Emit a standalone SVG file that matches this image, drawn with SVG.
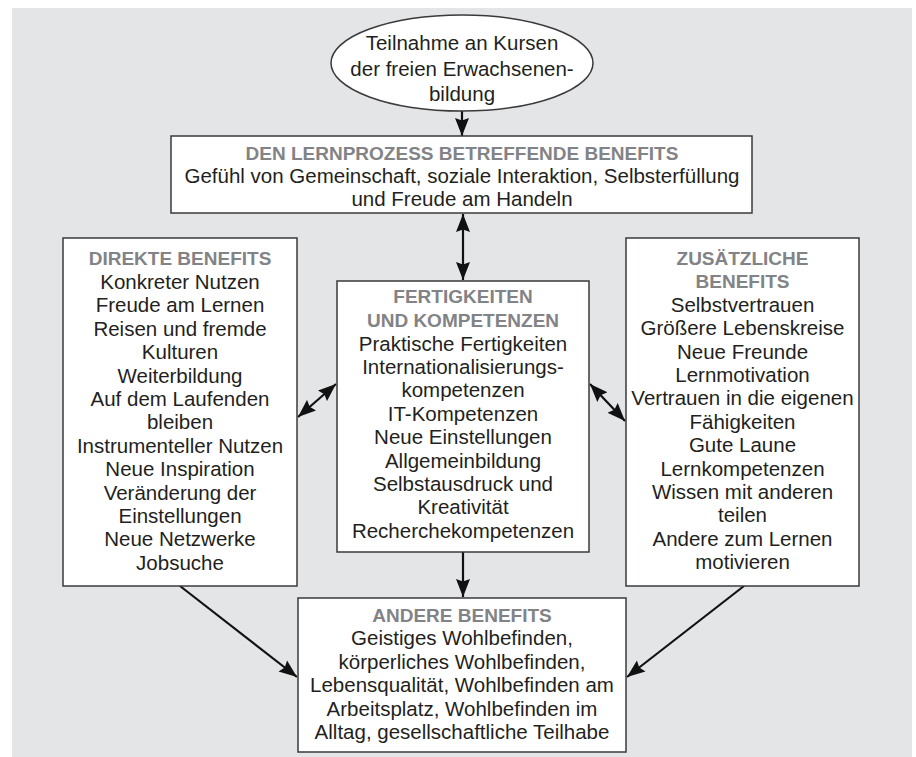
<svg xmlns="http://www.w3.org/2000/svg" width="916" height="757" viewBox="0 0 916 757">
<defs>
<style>
.bg{fill:#e4e5e7}
.box{fill:#ffffff;stroke:#3a3a3c;stroke-width:1.5}
.t{font-family:"Liberation Sans",Arial,sans-serif;font-size:20.5px;fill:#231f20;text-anchor:middle}
.h{font-family:"Liberation Sans",Arial,sans-serif;font-size:19px;font-weight:bold;fill:#828386;text-anchor:middle}
.c{stroke:#111;stroke-width:2.2;fill:none;marker-end:url(#ah)}
.d{stroke:#111;stroke-width:2.2;fill:none;marker-end:url(#ah);marker-start:url(#ah)}
</style>
<marker id="ah" markerUnits="userSpaceOnUse" markerWidth="19" markerHeight="15" refX="18" refY="7.5" orient="auto-start-reverse">
<path d="M0,0.5 L18,7.5 L0,14.5 L2.5,7.5 z" fill="#111"/>
</marker>
</defs>
<rect class="bg" x="12" y="8" width="900" height="749"/>

<g id="connectors">
<line class="c" x1="462" y1="111" x2="462" y2="136"/>
<line class="d" x1="463" y1="214" x2="463" y2="280"/>
<line class="d" x1="298" y1="417" x2="336" y2="384"/>
<line class="d" x1="590" y1="384" x2="625" y2="421"/>
<line class="c" x1="463" y1="552" x2="463" y2="597"/>
<line class="c" x1="180" y1="586" x2="297" y2="677"/>
<line class="c" x1="744" y1="586" x2="627" y2="677"/>
</g>

<g id="start">
<ellipse cx="462" cy="63" rx="131" ry="48" fill="#ffffff" stroke="#3a3a3c" stroke-width="1.5"/>
<text class="t" x="462" y="50">Teilnahme an Kursen</text>
<text class="t" x="462" y="75.5">der freien Erwachsenen-</text>
<text class="t" x="462" y="101">bildung</text>
</g>

<g id="lernprozess">
<rect class="box" x="171" y="136" width="581" height="77"/>
<text class="h" x="462" y="160">DEN LERNPROZESS BETREFFENDE BENEFITS</text>
<text class="t" x="462" y="183">Gefühl von Gemeinschaft, soziale Interaktion, Selbsterfüllung</text>
<text class="t" x="462" y="206">und Freude am Handeln</text>
</g>

<g id="direkte">
<rect class="box" x="63" y="238" width="234" height="348"/>
<text class="h" x="180" y="265">DIREKTE BENEFITS</text>
<text class="t" x="180" y="289">Konkreter Nutzen</text>
<text class="t" x="180" y="312.4">Freude am Lernen</text>
<text class="t" x="180" y="335.8">Reisen und fremde</text>
<text class="t" x="180" y="359.2">Kulturen</text>
<text class="t" x="180" y="382.6">Weiterbildung</text>
<text class="t" x="180" y="406">Auf dem Laufenden</text>
<text class="t" x="180" y="429.4">bleiben</text>
<text class="t" x="180" y="452.8">Instrumenteller Nutzen</text>
<text class="t" x="180" y="476.2">Neue Inspiration</text>
<text class="t" x="180" y="499.6">Veränderung der</text>
<text class="t" x="180" y="523">Einstellungen</text>
<text class="t" x="180" y="546.4">Neue Netzwerke</text>
<text class="t" x="180" y="569.8">Jobsuche</text>
</g>

<g id="fertigkeiten">
<rect class="box" x="337" y="281" width="252" height="271"/>
<text class="h" x="463" y="303.3">FERTIGKEITEN</text>
<text class="h" x="463" y="326.7">UND KOMPETENZEN</text>
<text class="t" x="463" y="350.5">Praktische Fertigkeiten</text>
<text class="t" x="463" y="373.9">Internationalisierungs-</text>
<text class="t" x="463" y="397.3">kompetenzen</text>
<text class="t" x="463" y="420.7">IT-Kompetenzen</text>
<text class="t" x="463" y="444.1">Neue Einstellungen</text>
<text class="t" x="463" y="467.5">Allgemeinbildung</text>
<text class="t" x="463" y="490.9">Selbstausdruck und</text>
<text class="t" x="463" y="514.3">Kreativität</text>
<text class="t" x="463" y="537.7">Recherchekompetenzen</text>
</g>

<g id="zusaetzliche">
<rect class="box" x="626" y="238" width="233" height="348"/>
<text class="h" x="742.5" y="265">ZUSÄTZLICHE</text>
<text class="h" x="742.5" y="288.4">BENEFITS</text>
<text class="t" x="742.5" y="311.8">Selbstvertrauen</text>
<text class="t" x="742.5" y="335.2">Größere Lebenskreise</text>
<text class="t" x="742.5" y="358.6">Neue Freunde</text>
<text class="t" x="742.5" y="382">Lernmotivation</text>
<text class="t" x="742.5" y="405.4">Vertrauen in die eigenen</text>
<text class="t" x="742.5" y="428.8">Fähigkeiten</text>
<text class="t" x="742.5" y="452.2">Gute Laune</text>
<text class="t" x="742.5" y="475.6">Lernkompetenzen</text>
<text class="t" x="742.5" y="499">Wissen mit anderen</text>
<text class="t" x="742.5" y="522.4">teilen</text>
<text class="t" x="742.5" y="545.8">Andere zum Lernen</text>
<text class="t" x="742.5" y="569.2">motivieren</text>
</g>

<g id="andere">
<rect class="box" x="298" y="598" width="328" height="154"/>
<text class="h" x="462" y="621.7">ANDERE BENEFITS</text>
<text class="t" x="462" y="645">Geistiges Wohlbefinden,</text>
<text class="t" x="462" y="668.5">körperliches Wohlbefinden,</text>
<text class="t" x="462" y="692">Lebensqualität, Wohlbefinden am</text>
<text class="t" x="462" y="715.5">Arbeitsplatz, Wohlbefinden im</text>
<text class="t" x="462" y="739">Alltag, gesellschaftliche Teilhabe</text>
</g>
</svg>
